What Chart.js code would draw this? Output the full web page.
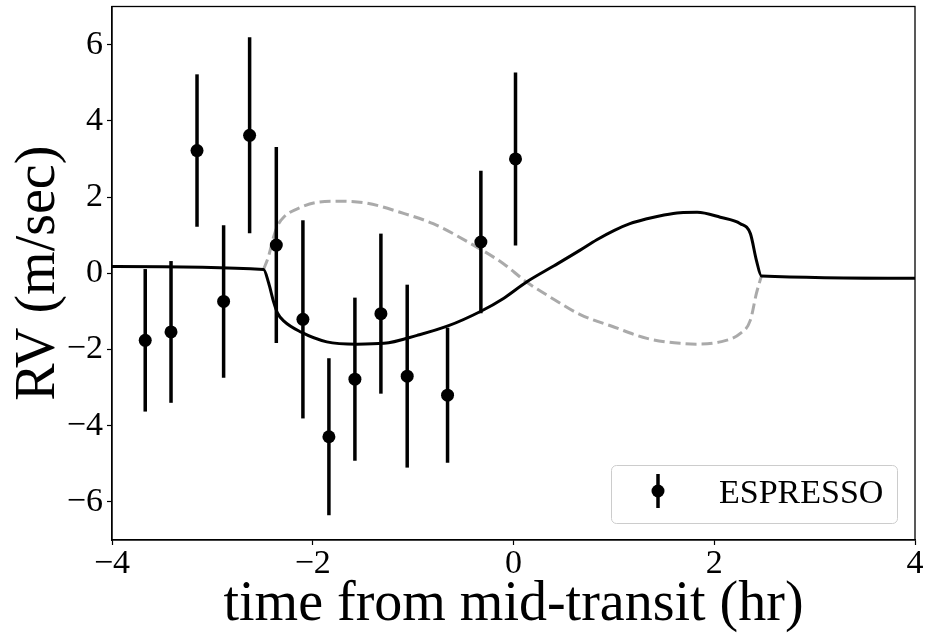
<!DOCTYPE html>
<html><head><meta charset="utf-8">
<script src="https://cdn.jsdelivr.net/npm/chart.js@4/dist/chart.umd.min.js"></script>
<style>html,body{margin:0;padding:0;background:#fff;} #wrap{width:927px;height:634px;position:relative;}</style>
</head><body><div id="wrap"><canvas id="c" width="927" height="634"></canvas></div>
<script>
// Observed ESPRESSO radial velocities
const obsTime = [-3.669, -3.412, -3.153, -2.888, -2.629, -2.363, -2.098, -1.839, -1.580, -1.321, -1.059, -0.657, -0.325, 0.020];
const obsRV   = [-1.76, -1.54, 3.22, -0.74, 3.62, 0.74, -1.21, -4.29, -2.78, -1.06, -2.70, -3.20, 0.82, 3.00];
const obsErr  = [1.87, 1.86, 2.00, 2.00, 2.57, 2.57, 2.60, 2.06, 2.14, 2.10, 2.40, 1.77, 1.87, 2.27];

// Best-fit model (solid black)
const modelTime = [-4.00, -2.49, -2.44, -2.39, -2.35, -2.29, -2.12, -1.86, -1.56, -1.29, -0.96, -0.66, -0.32, -0.10, 0.13, 0.40, 0.66, 0.83, 1.00, 1.16, 1.33, 1.50, 1.66, 1.83, 2.06, 2.26, 2.36, 2.42, 2.47, 4.00];
const modelRV   = [0.18, 0.10, -0.25, -0.75, -1.05, -1.25, -1.54, -1.80, -1.86, -1.84, -1.63, -1.39, -0.99, -0.66, -0.23, 0.19, 0.60, 0.88, 1.12, 1.30, 1.43, 1.53, 1.59, 1.60, 1.47, 1.30, 1.04, 0.34, -0.07, -0.13];

// Alternative model (dashed grey, in transit only)
const altTime = [-2.49, -2.44, -2.39, -2.35, -2.29, -2.12, -1.96, -1.73, -1.46, -1.13, -0.80, -0.44, -0.10, 0.13, 0.40, 0.66, 1.00, 1.33, 1.66, 1.83, 2.06, 2.26, 2.36, 2.42, 2.47];
const altRV   = [0.10, 0.45, 0.95, 1.25, 1.47, 1.73, 1.86, 1.89, 1.84, 1.60, 1.30, 0.80, 0.25, -0.23, -0.68, -1.08, -1.41, -1.71, -1.84, -1.86, -1.80, -1.58, -1.23, -0.53, -0.07];

const xTicks = [-4, -2, 0, 2, 4];
const yTicks = [-6, -4, -2, 0, 2, 4, 6];
const legendLabel = 'ESPRESSO';
const xTitle = 'time from mid-transit (hr)';
const yTitle = 'RV (m/sec)';

const FONT = '"Liberation Serif", "Times New Roman", serif';
const fmt = v => (v < 0 ? '\u2212' + Math.abs(v) : String(v));

const errorBars = {
  id: 'errorBars',
  afterDatasetsDraw(chart) {
    const {ctx, scales: {x, y}} = chart;
    ctx.save();
    ctx.strokeStyle = '#000';
    ctx.lineWidth = 3.5;
    ctx.lineCap = 'butt';
    obsTime.forEach((t, i) => {
      const px = x.getPixelForValue(t);
      ctx.beginPath();
      ctx.moveTo(px, y.getPixelForValue(obsRV[i] + obsErr[i]));
      ctx.lineTo(px, y.getPixelForValue(obsRV[i] - obsErr[i]));
      ctx.stroke();
    });
    ctx.restore();
  }
};

const frame = {
  id: 'frame',
  afterDraw(chart) {
    const {ctx, chartArea: a} = chart;
    ctx.save();
    ctx.strokeStyle = '#000';
    ctx.lineWidth = 1.3;
    ctx.strokeRect(a.left, a.top, a.right - a.left, a.bottom - a.top);
    ctx.restore();
  }
};

const insideLegend = {
  id: 'insideLegend',
  afterDraw(chart) {
    const {ctx} = chart;
    const label = chart.data.datasets[0].label;
    const bx = 611, by = 465, bw = 286, bh = 58, r = 5;
    ctx.save();
    ctx.fillStyle = 'rgba(255,255,255,0.8)';
    ctx.strokeStyle = '#cccccc';
    ctx.lineWidth = 1;
    ctx.beginPath();
    ctx.roundRect(bx + 0.5, by + 0.5, bw, bh, r);
    ctx.fill();
    ctx.stroke();
    const mx = 658, my = 491;
    ctx.strokeStyle = '#000';
    ctx.lineWidth = 3.5;
    ctx.beginPath();
    ctx.moveTo(mx, my - 17);
    ctx.lineTo(mx, my + 17);
    ctx.stroke();
    ctx.fillStyle = '#000';
    ctx.beginPath();
    ctx.arc(mx, my, 6.5, 0, Math.PI * 2);
    ctx.fill();
    ctx.font = '34px ' + FONT;
    ctx.textBaseline = 'alphabetic';
    ctx.textAlign = 'left';
    ctx.fillText(label, 719, 503);
    ctx.restore();
  }
};

new Chart(document.getElementById('c'), {
  type: 'scatter',
  data: {
    datasets: [
      {
        label: legendLabel,
        data: obsTime.map((t, i) => ({x: t, y: obsRV[i]})),
        showLine: false,
        pointRadius: 6.5,
        pointBackgroundColor: '#000',
        pointBorderWidth: 0,
        order: 0
      },
      {
        label: 'model',
        data: modelTime.map((t, i) => ({x: t, y: modelRV[i]})),
        showLine: true,
        borderColor: '#000',
        borderWidth: 3,
        pointRadius: 0,
        cubicInterpolationMode: 'monotone',
        order: 1
      },
      {
        label: 'alternative',
        data: altTime.map((t, i) => ({x: t, y: altRV[i]})),
        showLine: true,
        borderColor: '#aaaaaa',
        borderWidth: 3,
        borderDash: [11, 5],
        pointRadius: 0,
        cubicInterpolationMode: 'monotone',
        order: 2
      }
    ]
  },
  options: {
    responsive: false,
    animation: false,
    devicePixelRatio: 1,
    layout: {padding: {top: 6, right: 12, left: 0, bottom: 0}},
    plugins: {legend: {display: false}, tooltip: {enabled: false}},
    scales: {
      x: {
        type: 'linear',
        min: -4, max: 4,
        afterBuildTicks: s => { s.ticks = xTicks.map(v => ({value: v})); },
        afterFit: s => { s.height = 94; s.paddingLeft = 0; s.paddingRight = 0; },
        ticks: {
          color: '#000',
          font: {family: FONT, size: 34, lineHeight: 1},
          padding: 2,
          maxRotation: 0,
          callback: v => fmt(v)
        },
        grid: {drawOnChartArea: false, drawTicks: true, tickLength: 5, color: '#000', tickWidth: 1.2},
        border: {display: true, color: '#000', width: 1.3},
        title: {
          display: true, text: xTitle, color: '#000',
          font: {family: FONT, size: 56, lineHeight: 1},
          padding: {top: 0, bottom: 1}
        }
      },
      y: {
        type: 'linear',
        min: -7, max: 7,
        afterBuildTicks: s => { s.ticks = yTicks.map(v => ({value: v})); },
        afterFit: s => { s.width = 112; s.paddingTop = 0; s.paddingBottom = 0; },
        ticks: {
          color: '#000',
          font: {family: FONT, size: 34, lineHeight: 1},
          padding: 4,
          callback: v => fmt(v)
        },
        grid: {drawOnChartArea: false, drawTicks: true, tickLength: 5, color: '#000', tickWidth: 1.2},
        border: {display: true, color: '#000', width: 1.3},
        title: {
          display: true, text: yTitle, color: '#000',
          font: {family: FONT, size: 56, lineHeight: 1},
          padding: {top: 11, bottom: 0}
        }
      }
    }
  },
  plugins: [errorBars, frame, insideLegend]
});
</script>
</body></html>
